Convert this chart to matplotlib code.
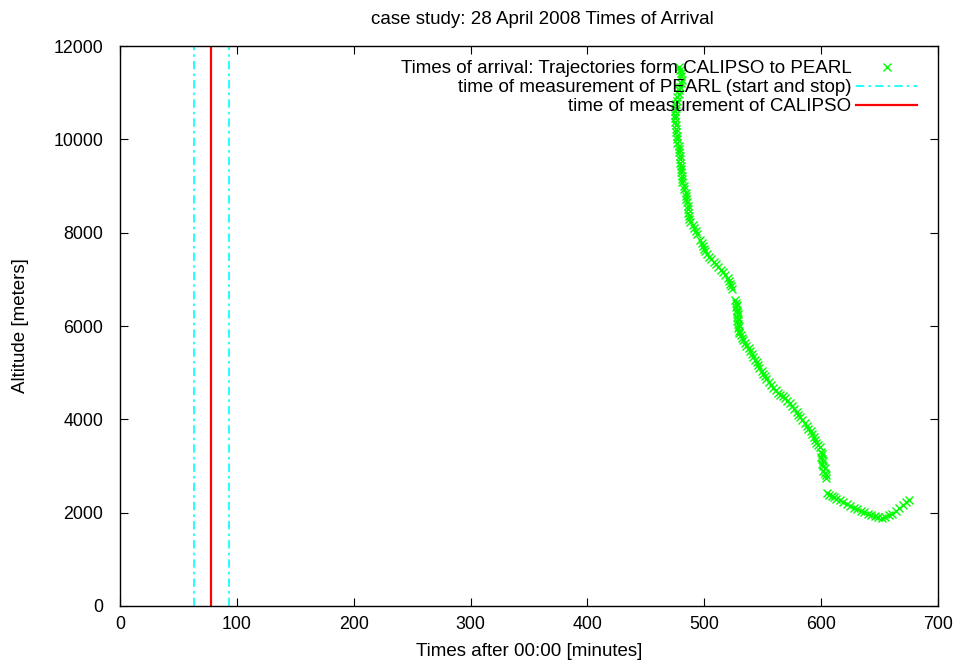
import matplotlib
matplotlib.use('Agg')
import matplotlib.pyplot as plt

plt.rcParams['font.family'] = ['Liberation Sans', 'DejaVu Sans']
plt.rcParams['font.size'] = 13.5

# times of arrival along the trajectory (minutes after 00:00) and altitude (m)
arrival_min = [
    478, 479, 480, 480, 481, 480, 479, 478, 478, 477, 477, 476, 476, 475, 475,
    475, 475, 476, 476, 476, 477, 477, 477, 478, 478, 478, 479, 479, 479, 480,
    480, 480, 481, 481, 481, 483, 483, 484, 484, 484, 485, 486, 486, 486, 487,
    487, 488, 490, 491, 493, 494, 496, 498, 499, 500, 501, 502, 504, 506, 508,
    510, 512, 514, 516, 518, 520, 521, 522, 523, 524, 526, 527, 528, 527, 528,
    528, 529, 528, 529, 528, 529, 530, 529, 530, 530, 531, 532, 533, 535, 536,
    538, 539, 541, 542, 543, 545, 546, 547, 549, 550, 552, 553, 555, 557, 559,
    561, 563, 565, 567, 569, 571, 573, 575, 577, 579, 580, 582, 584, 586, 588,
    589, 591, 592, 594, 595, 596, 597, 599, 600, 601, 600, 601, 602, 601, 602,
    603, 602, 603, 604, 604, 605, 607, 609, 611, 613, 616, 619, 622, 625, 628,
    631, 634, 637, 640, 643, 646, 649, 652, 655, 658, 661, 664, 667, 670, 673,
    675,
]
arrival_alt = [
    11550, 11480, 11420, 11350, 11280, 11200, 11130, 11050, 10980, 10900,
    10830, 10750, 10680, 10600, 10520, 10450, 10380, 10300, 10230, 10150,
    10080, 10000, 9930, 9860, 9790, 9720, 9650, 9580, 9500, 9430,
    9360, 9290, 9220, 9150, 9080, 9000, 8930, 8860, 8790, 8720,
    8650, 8580, 8500, 8430, 8360, 8290, 8220, 8160, 8100, 8040,
    7980, 7850, 7780, 7720, 7660, 7600, 7540, 7480, 7430, 7380,
    7330, 7270, 7210, 7150, 7090, 7030, 6970, 6910, 6850, 6800,
    6550, 6500, 6450, 6400, 6350, 6300, 6250, 6200, 6150, 6100,
    6050, 6000, 5950, 5900, 5850, 5800, 5750, 5700, 5640, 5580,
    5520, 5460, 5400, 5340, 5280, 5220, 5160, 5100, 5040, 4980,
    4920, 4860, 4800, 4740, 4680, 4620, 4570, 4530, 4490, 4450,
    4400, 4340, 4280, 4220, 4160, 4100, 4040, 3980, 3920, 3860,
    3800, 3740, 3680, 3620, 3560, 3500, 3450, 3400, 3300, 3250,
    3200, 3150, 3100, 3050, 3000, 2950, 2900, 2850, 2800, 2750,
    2420, 2380, 2350, 2330, 2300, 2270, 2230, 2190, 2150, 2110,
    2070, 2040, 2010, 1980, 1950, 1920, 1900, 1890, 1910, 1940,
    1980, 2030, 2090, 2160, 2230, 2280,
]

pearl_times = [63, 93]   # start and stop
calipso_time = 78

fig = plt.figure(figsize=(9.62, 6.65), dpi=100)
ax = fig.add_axes([120 / 962, 59 / 665, 818 / 962, 560 / 665])

ax.plot(arrival_min, arrival_alt, 'x', color='#00ff00', markersize=6,
        markeredgewidth=1, label='Times of arrival: Trajectories form CALIPSO to PEARL')
for i, t in enumerate(pearl_times):
    ax.axvline(t, color='#00ffff', lw=1.2, ls=(0, (5, 2.5, 1.5, 2.5)),
               label='time of measurement of PEARL (start and stop)' if i == 0 else None)
ax.axvline(calipso_time, color='#ff0000', lw=1.6, label='time of measurement of CALIPSO')

ax.set_xlim(0, 700)
ax.set_ylim(0, 12000)
ax.set_xticks(range(0, 701, 100))
ax.set_yticks(range(0, 12001, 2000))
ax.tick_params(direction='in', length=6, width=0.8, top=True, right=True,
               labelsize=12.8)
ax.tick_params(axis='x', pad=7)
ax.tick_params(axis='y', pad=12)
for s in ax.spines.values():
    s.set_linewidth(1.0)

ax.set_xlabel('Times after 00:00 [minutes]')
ax.set_ylabel('Altitude [meters]')
ax.xaxis.set_label_coords(0.5, -0.066)
ax.yaxis.set_label_coords(-0.111, 0.5)
fig.text(542 / 962, 1 - 20 / 665, 'case study: 28 April 2008 Times of Arrival',
         ha='center', va='center')

ax.legend(loc='upper right', bbox_to_anchor=(1 - 21 / 818, 1 - 14 / 560),
          frameon=False, markerfirst=False, handlelength=3.25, handletextpad=0.25,
          labelspacing=0.1, borderpad=0, borderaxespad=0)

fig.savefig('out.png', dpi=100)
